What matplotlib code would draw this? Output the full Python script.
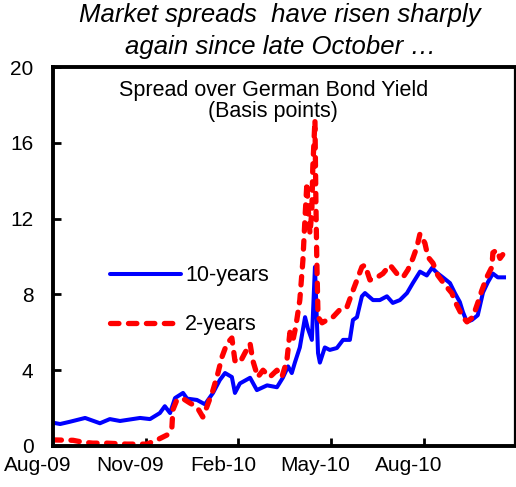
"""Spread over German bond yield, 10-year vs 2-year, Aug-09 to Oct-10."""
import matplotlib

matplotlib.use("Agg")
import matplotlib.pyplot as plt
from matplotlib.lines import Line2D

plt.rcParams["font.family"] = ["Liberation Sans", "DejaVu Sans"]

# x = months since 1 Aug 2009
TEN_X = [0.0, 0.23, 0.55, 1.04, 1.52, 1.84, 2.17, 2.82, 3.14, 3.46, 3.62, 3.79,
         3.95, 4.21, 4.34, 4.66, 4.92, 5.18, 5.40, 5.57, 5.79, 5.89, 6.05, 6.38,
         6.60, 6.93, 7.25, 7.44, 7.61, 7.73, 7.83, 7.99, 8.16, 8.25, 8.38, 8.48,
         8.58, 8.64, 8.80, 8.96, 9.19, 9.39, 9.61, 9.71, 9.84, 10.0, 10.1, 10.36,
         10.58, 10.81, 11.0, 11.23, 11.46, 11.65, 11.88, 12.1, 12.27, 12.46,
         12.62, 12.85, 13.01, 13.17, 13.27, 13.40, 13.56, 13.75, 13.92, 14.08,
         14.24, 14.40, 14.60]
TEN_Y = [1.23, 1.16, 1.28, 1.48, 1.20, 1.42, 1.32, 1.48, 1.42, 1.74, 2.10, 1.74,
         2.53, 2.80, 2.50, 2.43, 2.20, 2.80, 3.48, 3.85, 3.64, 2.80, 3.30, 3.60,
         2.95, 3.20, 3.10, 3.60, 4.20, 3.85, 4.40, 5.20, 6.80, 6.20, 5.60, 9.45,
         4.90, 4.40, 5.20, 5.07, 5.17, 5.60, 5.60, 6.65, 6.80, 7.90, 8.07, 7.70,
         7.70, 7.90, 7.55, 7.70, 8.07, 8.60, 9.20, 9.00, 9.40, 9.10,
         8.90, 8.60, 8.07, 7.60, 7.07, 6.55, 6.65, 6.90, 8.10, 8.65,
         9.10, 8.90, 8.90]

TWO_X = [0.0, 0.65, 0.97, 1.29, 1.75, 2.39, 3.04, 3.37, 3.69, 3.85, 3.88, 4.01,
         4.21, 4.43, 4.66, 4.85, 4.98, 5.18, 5.34, 5.47, 5.63, 5.79, 5.89, 6.05,
         6.21, 6.38, 6.47, 6.63, 6.80, 7.02, 7.25, 7.41, 7.57, 7.67, 7.77, 7.86,
         7.99, 8.09, 8.16, 8.22, 8.25, 8.32, 8.38, 8.41, 8.48, 8.51, 8.54, 8.58,
         8.71, 8.87, 9.06, 9.29, 9.51, 9.68, 9.84, 10.0, 10.1, 10.26, 10.49,
         10.68, 10.91, 11.13, 11.33, 11.49, 11.65, 11.78, 11.88, 12.04, 12.14,
         12.30, 12.46, 12.69, 12.91, 13.07, 13.27, 13.40, 13.59, 13.75, 13.88,
         14.04, 14.21, 14.24, 14.37, 14.47, 14.56]
TWO_Y = [0.32, 0.30, 0.20, 0.15, 0.15, 0.10, 0.10, 0.32, 0.58, 1.00, 1.90, 2.43,
         2.50, 2.27, 2.06, 1.53, 2.06, 2.95, 3.85, 4.70, 5.40, 5.70, 4.50, 4.40,
         4.90, 5.40, 4.50, 3.64, 4.00, 3.64, 4.00, 3.64, 4.50, 6.00, 5.60, 6.30,
         7.70, 9.80, 12.10, 13.90, 12.80, 11.20, 12.45, 14.70, 17.20, 13.00,
         9.80, 6.80, 6.50, 6.65, 6.80, 7.20, 7.30, 8.07, 8.76, 9.45, 9.55, 8.76,
         8.90, 9.10, 9.55, 9.10, 8.90, 9.30, 9.90, 10.50, 11.20, 10.70, 9.97,
         9.65, 9.00, 8.50, 8.07, 7.44, 6.80, 6.55, 6.80, 7.55, 8.20,
         8.90, 9.45, 10.20, 10.35, 9.90, 10.10]

TICK_POS = [3, 6, 9, 12]
LABEL_POS = [-0.5, 2.5, 5.5, 8.5, 11.5]
LABELS = ["Aug-09", "Nov-09", "Feb-10", "May-10", "Aug-10"]
YTICKS = [0, 4, 8, 12, 16, 20]

BLUE = "#0000FF"
RED = "#FF0000"
DASH = (0, (1.6, 1.8))

fig = plt.figure(figsize=(5.16, 4.87), dpi=100)
ax = fig.add_axes([0.1027, 0.0842, 0.895, 0.7782])

ax.plot(TEN_X, TEN_Y, color=BLUE, lw=2.9)
ax.plot(TWO_X, TWO_Y, color=RED, lw=3.8, ls=DASH, dash_capstyle="round")

ax.set_xlim(0, 14.95)
ax.set_ylim(0, 20)
ax.set_yticks(YTICKS)
ax.set_xticks(TICK_POS)
ax.set_xticklabels([])
ax.tick_params(axis="both", direction="in", length=6, width=2, labelsize=15)
ax.tick_params(axis="y", pad=14)
for x, lab in zip(LABEL_POS, LABELS):
    ax.text(x, -0.052, lab, transform=ax.get_xaxis_transform(), ha="center",
            va="center", fontsize=15, clip_on=False)
for name, s in ax.spines.items():
    s.set_linewidth(1.6 if name == "right" else 2.8)

ax.text(0.477, 0.965, "Spread over German Bond Yield\n(Basis points)",
        transform=ax.transAxes, ha="center", va="top", fontsize=15.5,
        linespacing=1.0)

handles = [Line2D([], [], color=BLUE, lw=2.9, solid_capstyle="round"),
           Line2D([], [], color=RED, lw=3.8, ls=DASH, dash_capstyle="round")]
ax.legend(handles, ["10-years", "2-years"], loc="upper left",
          bbox_to_anchor=(0.123, 0.477), frameon=False, fontsize=15.5,
          handlelength=3.3, handletextpad=0.2, labelspacing=1.3,
          borderpad=0, borderaxespad=0)

fig.text(0.543, 0.993, "Market spreads  have risen sharply\nagain since late October \u2026",
         ha="center", va="top", fontsize=18.5, style="italic", linespacing=1.38)

fig.savefig("out.png", dpi=100)
